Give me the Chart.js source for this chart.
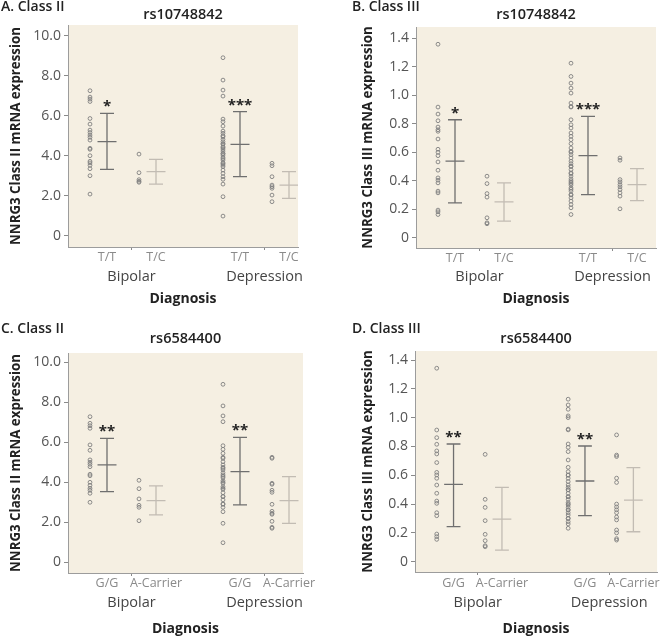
<!DOCTYPE html>
<html>
<head>
<meta charset="utf-8">
<title>NNRG3 expression by genotype</title>
<script src="https://cdn.jsdelivr.net/npm/chart.js@4.4.1/dist/chart.umd.min.js"></script>
<style>
  body { margin: 0; background: #fff; }
  #wrap { position: relative; width: 662px; height: 637px; }
  canvas { position: absolute; }
</style>
</head>
<body>
<div id="wrap">
  <canvas id="panelA" width="331" height="310" style="left:0;top:0"></canvas>
  <canvas id="panelB" width="331" height="310" style="left:331px;top:0"></canvas>
  <canvas id="panelC" width="331" height="327" style="left:0;top:310px"></canvas>
  <canvas id="panelD" width="331" height="327" style="left:331px;top:310px"></canvas>
</div>
<script>
// categories + tick labels
const diagnoses = ['Bipolar', 'Depression'];
const genoRs107 = ['T/T', 'T/C'];
const genoRs658 = ['G/G', 'A-Carrier'];
const ticksClassII = [0, 2, 4, 6, 8, 10];
const ticksClassIII = [0, 0.2, 0.4, 0.6, 0.8, 1.0, 1.2, 1.4];

// A. Class II, rs10748842 (one value per subject)
const aBipTT = [7.25, 6.93, 6.83, 6.71, 5.86, 5.58, 5.28, 5.16, 5.03, 4.92, 4.78, 4.37, 4.32, 4.0, 3.72, 3.64, 3.52, 3.35, 3.0, 2.08];
const aBipTC = [4.08, 3.15, 2.8, 2.72, 2.67];
const aDepTT = [8.9, 7.78, 7.28, 6.98, 5.83, 5.7, 5.48, 5.23, 5.12, 5.0, 4.95, 4.82, 4.7, 4.6, 4.58, 4.45, 4.4, 4.33, 4.23,
                4.12, 4.1, 4.03, 3.92, 3.85, 3.78, 3.65, 3.6, 3.53, 3.45, 3.28, 3.12, 2.95, 2.82, 2.58, 1.95, 0.98];
const aDepTC = [3.62, 3.5, 2.95, 2.53, 2.45, 2.37, 2.03, 1.7];
const aMean = [4.7, 3.2, 4.57, 2.53];
const aLow = [3.32, 2.58, 2.95, 1.87];
const aHigh = [6.12, 3.82, 6.2, 3.2];
const aStars = ['*', '', '***', ''];

// B. Class III, rs10748842
const bBipTT = [1.358, 0.917, 0.868, 0.821, 0.777, 0.758, 0.747, 0.693, 0.621, 0.6, 0.576, 0.532, 0.474, 0.42, 0.404, 0.385, 0.327, 0.315, 0.194, 0.182, 0.163];
const bBipTC = [0.432, 0.38, 0.31, 0.285, 0.14, 0.105, 0.098];
const bDepTT = [1.225, 1.132, 1.085, 1.05, 1.015, 0.945, 0.92, 0.917, 0.828, 0.793, 0.77, 0.735, 0.712, 0.688, 0.66, 0.63, 0.607, 0.6,
                0.583, 0.56, 0.537, 0.52, 0.502, 0.5, 0.478, 0.455, 0.45, 0.432, 0.413, 0.4, 0.39, 0.38, 0.369, 0.35, 0.34, 0.327,
                0.303, 0.3, 0.28, 0.257, 0.233, 0.21, 0.163];
const bDepTC = [0.56, 0.544, 0.408, 0.392, 0.373, 0.357, 0.338, 0.315, 0.292, 0.203];
const bMean = [0.537, 0.252, 0.576, 0.373];
const bLow = [0.245, 0.117, 0.303, 0.261];
const bHigh = [0.828, 0.385, 0.852, 0.485];
const bStars = ['*', '', '***', ''];

// C. Class II, rs6584400
const cBipGG = [7.28, 6.95, 6.83, 6.7, 5.87, 5.6, 5.12, 5.0, 4.9, 4.78, 4.4, 4.33, 4.0, 3.85, 3.7, 3.6, 3.45, 3.0];
const cBipAC = [4.1, 3.68, 3.17, 2.85, 2.75, 2.08];
const cDepGG = [8.9, 7.82, 7.32, 7.03, 5.83, 5.65, 5.45, 5.25, 5.2, 5.03, 4.87, 4.75, 4.7, 4.62, 4.48, 4.37, 4.3, 4.23, 4.08,
                4.0, 3.95, 3.78, 3.7, 3.65, 3.48, 3.3, 3.28, 3.12, 2.92, 2.9, 2.75, 2.53, 1.95, 0.98];
const cDepAC = [5.25, 5.2, 3.95, 3.9, 3.6, 3.5, 2.9, 2.55, 2.45, 2.4, 2.05, 1.75, 1.7];
const cMean = [4.87, 3.08, 4.53, 3.08];
const cLow = [3.53, 2.37, 2.87, 1.95];
const cHigh = [6.2, 3.82, 6.25, 4.28];
const cStars = ['**', '', '**', ''];

// D. Class III, rs6584400
const dBipGG = [1.343, 0.914, 0.861, 0.815, 0.769, 0.748, 0.688, 0.62, 0.602, 0.579, 0.532, 0.475, 0.421, 0.405, 0.34, 0.319, 0.192, 0.174, 0.155];
const dBipAC = [0.745, 0.433, 0.377, 0.285, 0.19, 0.146, 0.111, 0.104];
const dDepGG = [1.128, 1.088, 1.058, 1.012, 1.0, 0.92, 0.915, 0.817, 0.794, 0.764, 0.706, 0.655, 0.625, 0.602, 0.6, 0.579, 0.556,
                0.533, 0.516, 0.5, 0.498, 0.475, 0.451, 0.45, 0.433, 0.41, 0.4, 0.394, 0.378, 0.36, 0.359, 0.34, 0.324, 0.301,
                0.3, 0.278, 0.262, 0.232];
const dDepAC = [0.88, 0.74, 0.73, 0.58, 0.55, 0.4, 0.38, 0.36, 0.34, 0.31, 0.29, 0.22, 0.2, 0.16, 0.15];
const dMean = [0.537, 0.296, 0.56, 0.428];
const dLow = [0.243, 0.081, 0.32, 0.208];
const dHigh = [0.817, 0.516, 0.803, 0.653];
const dStars = ['**', '', '**', ''];

const FONT = "'Open Sans', 'DejaVu Sans', sans-serif";
const BAR_POS = [39, 88, 172, 221];   // x of each error bar, px from plot left
const DOT_SHIFT = 17;                 // dots sit left of their bar
const GROUP_MID = [63.5, 196.5];

const plotBg = {
  id: 'plotBg',
  beforeDraw(chart) {
    const { ctx, chartArea: a } = chart;
    ctx.save();
    ctx.fillStyle = '#f5efe2';
    ctx.fillRect(a.left, a.top, a.width, a.height);
    ctx.restore();
  }
};

function makePanel(id, cfg) {
  const ds = [];
  cfg.dots.forEach((vals, i) => {
    ds.push({
      data: vals.map(v => ({ x: BAR_POS[i] - DOT_SHIFT, y: v })),
      pointRadius: 1.9,
      pointBorderWidth: 0.9,
      pointBorderColor: '#808080',
      pointBackgroundColor: 'rgba(255,255,255,0)'
    });
  });
  cfg.mean.forEach((m, i) => {
    const x = BAR_POS[i], lo = cfg.low[i], hi = cfg.high[i];
    ds.push({
      showLine: true,
      spanGaps: false,
      pointRadius: 0,
      borderWidth: 1.3,
      borderColor: i % 2 === 0 ? '#6f6f6f' : '#c2bcb3',
      data: [
        { x: x, y: lo }, { x: x, y: hi }, { x: x, y: null },
        { x: x - 7, y: hi }, { x: x + 7, y: hi }, { x: x, y: null },
        { x: x - 7, y: lo }, { x: x + 7, y: lo }, { x: x, y: null },
        { x: x - 9.5, y: m }, { x: x + 9.5, y: m }
      ]
    });
  });

  const texts = {
    id: 'texts',
    afterDraw(chart) {
      const { ctx, chartArea: a } = chart;
      const xs = chart.scales.x, ys = chart.scales.y;
      ctx.save();
      ctx.fillStyle = '#222';
      ctx.font = '600 14px ' + FONT;
      ctx.textAlign = 'left';
      ctx.textBaseline = 'middle';
      ctx.fillText(cfg.panel, cfg.panelX, cfg.panelY);
      ctx.font = '600 14.5px ' + FONT;
      ctx.textAlign = 'center';
      ctx.fillText(cfg.title, (a.left + a.right) / 2, cfg.titleY);
      ctx.font = 'bold 15px ' + FONT;
      ctx.textBaseline = 'alphabetic';
      cfg.stars.forEach((s, i) => {
        if (!s) return;
        ctx.fillText(s, xs.getPixelForValue(BAR_POS[i]), ys.getPixelForValue(cfg.high[i]) - 2);
      });
      ctx.restore();
    }
  };

  const genoTicks = [];
  diagnoses.forEach((d, g) => {
    genoTicks.push({ value: BAR_POS[g * 2], txt: cfg.geno[0] });
    genoTicks.push({ value: GROUP_MID[g], txt: '', mark: true });
    genoTicks.push({ value: BAR_POS[g * 2 + 1], txt: cfg.geno[1] });
  });

  return new Chart(document.getElementById(id), {
    type: 'scatter',
    data: { datasets: ds },
    options: {
      responsive: false,
      animation: false,
      events: [],
      layout: { padding: { left: 0, right: 331 - cfg.yW - cfg.plotW, top: cfg.top, bottom: cfg.padB } },
      plugins: { legend: { display: false }, tooltip: { enabled: false } },
      scales: {
        x: {
          type: 'linear', position: 'bottom', weight: 0,
          min: 0, max: cfg.plotW,
          afterBuildTicks: s => { s.ticks = genoTicks.map(t => Object.assign({}, t)); },
          afterFit: s => { s.height = 19; s.paddingLeft = 0; s.paddingRight = 0; },
          ticks: {
            autoSkip: false, maxRotation: 0, padding: cfg.xPad,
            color: '#8a8a8a', font: { family: FONT, size: 12.5 },
            callback: (v, i, t) => t[i].txt
          },
          grid: {
            drawOnChartArea: false, tickLength: 3,
            tickColor: c => (c.tick && c.tick.mark) ? '#8a8a8a' : 'rgba(0,0,0,0)'
          },
          border: { color: '#9c9c9c' }
        },
        x2: {
          type: 'linear', position: 'bottom', weight: 1,
          min: 0, max: cfg.plotW,
          afterBuildTicks: s => { s.ticks = GROUP_MID.map((v, g) => ({ value: v, txt: diagnoses[g] })); },
          afterFit: s => { s.height = cfg.x2H; s.paddingLeft = 0; s.paddingRight = 0; },
          ticks: {
            autoSkip: false, maxRotation: 0, padding: cfg.x2Pad,
            color: '#444', font: { family: FONT, size: 14.5 },
            callback: (v, i, t) => t[i].txt
          },
          grid: { display: false, drawTicks: false },
          border: { display: false },
          title: {
            display: true, text: 'Diagnosis', color: '#222',
            font: { family: FONT, size: 14, weight: 'bold' },
            padding: { top: 0, bottom: 0 }
          }
        },
        y: {
          type: 'linear', position: 'left',
          min: cfg.yMin, max: cfg.yMax,
          afterBuildTicks: s => { s.ticks = cfg.yTicks.map(v => ({ value: v })); },
          afterFit: s => { s.width = cfg.yW; s.paddingTop = 0; s.paddingBottom = 0; },
          ticks: {
            padding: 3, color: '#555', font: { family: FONT, size: 14 },
            callback: v => v === 0 ? '0' : v.toFixed(1)
          },
          grid: { drawOnChartArea: false, tickLength: 4, tickColor: '#8a8a8a' },
          border: { color: '#9c9c9c' },
          title: {
            display: true, text: cfg.yTitle, color: '#222',
            font: { family: FONT, size: 13.3, weight: 'bold' },
            padding: { top: cfg.yTitlePad, bottom: 0 }
          }
        }
      }
    },
    plugins: [plotBg, texts]
  });
}

makePanel('panelA', {
  panel: 'A. Class II', panelX: 1, panelY: 7,
  title: 'rs10748842', titleY: 15,
  geno: genoRs107, dots: [aBipTT, aBipTC, aDepTT, aDepTC],
  mean: aMean, low: aLow, high: aHigh, stars: aStars,
  yTitle: 'NNRG3 Class II mRNA expression', yTicks: ticksClassII,
  yMin: -0.565, yMax: 10.535, yW: 68, yTitlePad: 8,
  plotW: 230, top: 25, padB: 3, xPad: 0, x2H: 41, x2Pad: 2
});

makePanel('panelB', {
  panel: 'B. Class III', panelX: 21, panelY: 7,
  title: 'rs10748842', titleY: 15,
  geno: genoRs107, dots: [bBipTT, bBipTC, bDepTT, bDepTC],
  mean: bMean, low: bLow, high: bHigh, stars: bStars,
  yTitle: 'NNRG3 Class III mRNA expression', yTicks: ticksClassIII,
  yMin: -0.072, yMax: 1.479, yW: 85, yTitlePad: 29,
  plotW: 240, top: 27, padB: 3, xPad: 0, x2H: 40, x2Pad: 1
});

makePanel('panelC', {
  panel: 'C. Class II', panelX: 1, panelY: 19,
  title: 'rs6584400', titleY: 29,
  geno: genoRs658, dots: [cBipGG, cBipAC, cDepGG, cDepAC],
  mean: cMean, low: cLow, high: cHigh, stars: cStars,
  yTitle: 'NNRG3 Class II mRNA expression', yTicks: ticksClassII,
  yMin: -0.535, yMax: 10.465, yW: 68, yTitlePad: 8,
  plotW: 235, top: 43, padB: 0, xPad: 0, x2H: 45, x2Pad: 2
});

makePanel('panelD', {
  panel: 'D. Class III', panelX: 21, panelY: 19,
  title: 'rs6584400', titleY: 29,
  geno: genoRs658, dots: [dBipGG, dBipAC, dDepGG, dDepAC],
  mean: dMean, low: dLow, high: dHigh, stars: dStars,
  yTitle: 'NNRG3 Class III mRNA expression', yTicks: ticksClassIII,
  yMin: -0.0715, yMax: 1.4625, yW: 84, yTitlePad: 29,
  plotW: 245, top: 41, padB: 0, xPad: 1, x2H: 46, x2Pad: 3
});
</script>
</body>
</html>
